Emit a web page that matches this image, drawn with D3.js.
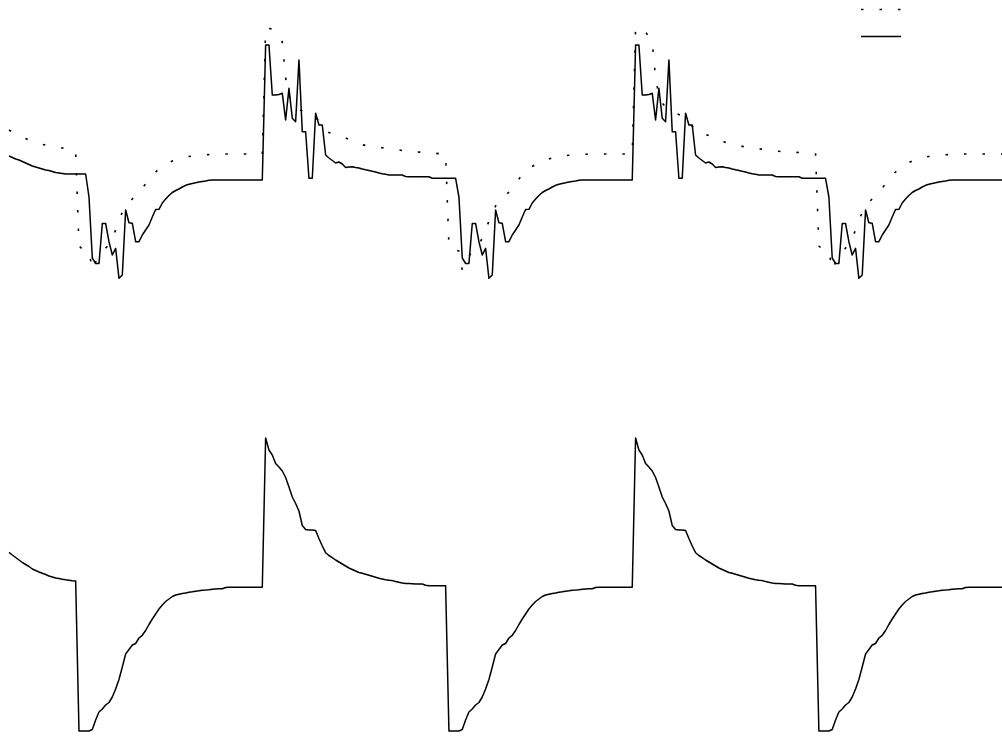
<!DOCTYPE html>
<html>
<head>
<meta charset="utf-8">
<script src="https://cdn.jsdelivr.net/npm/d3@7"></script>
<style>
  html, body { margin: 0; padding: 0; background: #ffffff; }
  svg { display: block; }
</style>
</head>
<body>
<svg id="chart" width="1002" height="736"></svg>
<script>
// Upper panel, dotted trace (one sample per time step)
const upperDotted = [
  4.0,3.8,3.6,3.45,3.3,3.15,3.0,2.9,2.75,2.65,2.57,2.5,2.43,2.37,2.32,2.27,2.2,2.13,2.05,1.97,1.9,
  -7.6,-7.9,-8.0,-8.1,-10.0,-9.2,-8.6,-8.2,-7.8,-7.5,-6.8,-6.0,-5.1,-4.2,-3.6,-3.2,-2.9,-2.6,-2.2,-1.8,-1.4,-0.9,-0.5,-0.2,0.1,0.35,0.55,0.75,0.9,1.0,1.1,1.2,1.3,1.35,1.4,1.43,1.47,1.5,1.52,1.54,1.56,1.57,1.58,1.59,
  1.6,1.6,1.6,1.6,1.6,1.6,1.6,1.6,1.6,1.6,1.6,1.6,
  14.2,14.15,14.1,13.8,13.3,12.8,9.2,7.4,6.7,6.3,6.05,5.9,5.7,5.55,5.4,5.25,4.9,4.4,3.9,3.75,3.65,3.55,3.45,3.33,3.2,3.05,2.9,2.75,2.6,2.52,2.46,2.4,2.36,2.32,2.27,2.22,2.17,2.12,2.08,2.04,2.0,1.95,1.9,1.87,1.83,1.8,1.79,1.78,1.77,1.75,1.7,1.67,1.64,1.62,1.6,
  -7.6,-7.9,-8.0,-8.1,-10.0,-9.2,-8.6,-8.2,-7.8,-7.5,-6.8,-6.0,-5.1,-4.2,-3.6,-3.2,-2.9,-2.6,-2.2,-1.8,-1.4,-0.9,-0.5,-0.2,0.1,0.35,0.55,0.75,0.9,1.0,1.1,1.2,1.3,1.35,1.4,1.43,1.47,1.5,1.52,1.54,1.56,1.57,1.58,1.59,
  1.6,1.6,1.6,1.6,1.6,1.6,1.6,1.6,1.6,1.6,1.6,1.6,
  14.2,14.15,14.1,13.8,13.3,12.8,9.2,7.4,6.7,6.3,6.05,5.9,5.7,5.55,5.4,5.25,4.9,4.4,3.9,3.75,3.65,3.55,3.45,3.33,3.2,3.05,2.9,2.75,2.6,2.52,2.46,2.4,2.36,2.32,2.27,2.22,2.17,2.12,2.08,2.04,2.0,1.95,1.9,1.87,1.83,1.8,1.79,1.78,1.77,1.75,1.7,1.67,1.64,1.62,1.6,
  -7.6,-7.9,-8.0,-8.1,-10.0,-9.2,-8.6,-8.2,-7.8,-7.5,-6.8,-6.0,-5.1,-4.2,-3.6,-3.2,-2.9,-2.6,-2.2,-1.8,-1.4,-0.9,-0.5,-0.2,0.1,0.35,0.55,0.75,0.9,1.0,1.1,1.2,1.3,1.35,1.4,1.43,1.47,1.5,1.52,1.54,1.56,1.57,1.58,1.59,
  1.6,1.6,1.6,1.6,1.6,1.6,1.6,1.6,1.6,1.6,1.6,1.6
];

// Upper panel, solid trace
const upperSolid = [
  1.4,1.25,1.1,1.0,0.85,0.7,0.55,0.4,0.3,0.2,0.1,0,-0.05,-0.15,-0.25,-0.3,-0.35,-0.4,-0.4,-0.4,-0.4,-0.4,-0.4,-0.4,
  -2.7,-8.8,-9.35,-9.35,-5.35,-5.35,-7.17,-8.5,-7.83,-10.83,-10.5,-4.0,-5.27,-5.33,-7.17,-7.17,-6.5,-6.0,-5.5,-4.7,-3.95,-3.93,-3.3,-2.9,-2.55,-2.25,-2.05,-1.9,-1.7,-1.53,-1.43,-1.35,-1.28,-1.2,-1.15,-1.1,-1.03,-1.0,
  -1.0,-1.0,-1.0,-1.0,-1.0,-1.0,-1.0,-1.0,-1.0,-1.0,-1.0,-1.0,-1.0,-1.0,-1.0,
  12.5,12.5,7.5,7.5,7.55,7.67,5.0,8.17,5.17,4.83,11.0,3.83,3.83,-0.83,-0.83,5.67,4.5,4.5,
  1.5,1.2,0.95,0.7,0.8,0.6,0.25,0.3,0.33,0.25,0.2,0.1,0.02,-0.05,-0.13,-0.2,-0.3,-0.37,-0.43,-0.5,-0.5,-0.5,-0.5,-0.5,-0.65,-0.67,-0.67,-0.67,-0.67,-0.67,-0.67,-0.67,-0.83,-0.83,-0.83,-0.83,-0.83,-0.83,-0.83,-0.83,
  -2.7,-8.8,-9.35,-9.35,-5.35,-5.35,-7.17,-8.5,-7.83,-10.83,-10.5,-4.0,-5.27,-5.33,-7.17,-7.17,-6.5,-6.0,-5.5,-4.7,-3.95,-3.93,-3.3,-2.9,-2.55,-2.25,-2.05,-1.9,-1.7,-1.53,-1.43,-1.35,-1.28,-1.2,-1.15,-1.1,-1.03,-1.0,
  -1.0,-1.0,-1.0,-1.0,-1.0,-1.0,-1.0,-1.0,-1.0,-1.0,-1.0,-1.0,-1.0,-1.0,-1.0,
  12.5,12.5,7.5,7.5,7.55,7.67,5.0,8.17,5.17,4.83,11.0,3.83,3.83,-0.83,-0.83,5.67,4.5,4.5,
  1.5,1.2,0.95,0.7,0.8,0.6,0.25,0.3,0.33,0.25,0.2,0.1,0.02,-0.05,-0.13,-0.2,-0.3,-0.37,-0.43,-0.5,-0.5,-0.5,-0.5,-0.5,-0.65,-0.67,-0.67,-0.67,-0.67,-0.67,-0.67,-0.67,-0.83,-0.83,-0.83,-0.83,-0.83,-0.83,-0.83,-0.83,
  -2.7,-8.8,-9.35,-9.35,-5.35,-5.35,-7.17,-8.5,-7.83,-10.83,-10.5,-4.0,-5.27,-5.33,-7.17,-7.17,-6.5,-6.0,-5.5,-4.7,-3.95,-3.93,-3.3,-2.9,-2.55,-2.25,-2.05,-1.9,-1.7,-1.53,-1.43,-1.35,-1.28,-1.2,-1.15,-1.1,-1.03,-1.0,
  -1.0,-1.0,-1.0,-1.0,-1.0,-1.0,-1.0,-1.0,-1.0,-1.0,-1.0,-1.0,-1.0,-1.0,-1.0
];

// Lower panel, solid trace
const lowerSolid = [
  3.27,3.0,2.75,2.5,2.25,2.05,1.85,1.6,1.45,1.3,1.17,1.05,0.9,0.8,0.7,0.65,0.58,0.52,0.47,0.42,0.4,
  -14.6,-14.6,-14.6,-14.6,-14.45,-13.5,-12.7,-12.4,-12.0,-11.75,-11.2,-10.4,-9.45,-8.2,-6.9,-6.45,-6.0,-5.85,-5.3,-5.03,-4.55,-3.95,-3.4,-2.9,-2.4,-2.0,-1.65,-1.4,-1.15,-1.0,-0.92,-0.85,-0.8,-0.73,-0.68,-0.62,-0.58,-0.52,-0.5,-0.47,-0.43,-0.4,-0.38,-0.37,-0.25,
  -0.23,-0.23,-0.23,-0.23,-0.23,-0.23,-0.23,-0.23,-0.23,-0.23,-0.23,
  14.7,13.5,13.0,12.15,11.8,11.4,10.75,9.8,8.8,8.15,7.4,5.95,5.55,5.5,5.5,5.45,4.65,3.9,3.23,2.95,2.73,2.5,2.3,2.1,1.9,1.7,1.55,1.4,1.25,1.17,1.07,0.97,0.87,0.77,0.67,0.6,0.53,0.48,0.44,0.35,0.27,0.2,0.16,0.14,0.12,0.1,0.1,0.1,-0.02,-0.07,-0.07,-0.07,-0.07,-0.07,-0.07,
  -14.6,-14.6,-14.6,-14.6,-14.45,-13.5,-12.7,-12.4,-12.0,-11.75,-11.2,-10.4,-9.45,-8.2,-6.9,-6.45,-6.0,-5.85,-5.3,-5.03,-4.55,-3.95,-3.4,-2.9,-2.4,-2.0,-1.65,-1.4,-1.15,-1.0,-0.92,-0.85,-0.8,-0.73,-0.68,-0.62,-0.58,-0.52,-0.5,-0.47,-0.43,-0.4,-0.38,-0.37,-0.25,
  -0.23,-0.23,-0.23,-0.23,-0.23,-0.23,-0.23,-0.23,-0.23,-0.23,-0.23,
  14.7,13.5,13.0,12.15,11.8,11.4,10.75,9.8,8.8,8.15,7.4,5.95,5.55,5.5,5.5,5.45,4.65,3.9,3.23,2.95,2.73,2.5,2.3,2.1,1.9,1.7,1.55,1.4,1.25,1.17,1.07,0.97,0.87,0.77,0.67,0.6,0.53,0.48,0.44,0.35,0.27,0.2,0.16,0.14,0.12,0.1,0.1,0.1,-0.02,-0.07,-0.07,-0.07,-0.07,-0.07,-0.07,
  -14.6,-14.6,-14.6,-14.6,-14.45,-13.5,-12.7,-12.4,-12.0,-11.75,-11.2,-10.4,-9.45,-8.2,-6.9,-6.45,-6.0,-5.85,-5.3,-5.03,-4.55,-3.95,-3.4,-2.9,-2.4,-2.0,-1.65,-1.4,-1.15,-1.0,-0.92,-0.85,-0.8,-0.73,-0.68,-0.62,-0.58,-0.52,-0.5,-0.47,-0.43,-0.4,-0.38,-0.37,-0.25,
  -0.23,-0.23,-0.23,-0.23,-0.23,-0.23,-0.23,-0.23,-0.23,-0.23,-0.23
];

// Sample index along the time axis
const steps = upperSolid.map((_, i) => i);

const svg = d3.select("#chart");
const W = 1002, H = 736;

const x = d3.scaleLinear().domain([0, 298]).range([9, 1002.2]);
const yUpper = d3.scaleLinear().domain([-12, 15]).range([290, 20]);
const yLower = d3.scaleLinear().domain([-15, 15]).range([735, 435]);

const dotted = "2.5 16";

function lineFor(scale) {
  return d3.line().x((d, i) => x(steps[i])).y(d => scale(d));
}

const upper = svg.append("g").attr("class", "upper");
upper.append("path")
  .datum(upperDotted)
  .attr("d", lineFor(yUpper))
  .attr("fill", "none")
  .attr("stroke", "#000")
  .attr("stroke-width", 1.6)
  .attr("stroke-dasharray", dotted);
upper.append("path")
  .datum(upperSolid)
  .attr("d", lineFor(yUpper))
  .attr("fill", "none")
  .attr("stroke", "#000")
  .attr("stroke-width", 1.5)
  .attr("stroke-linejoin", "round");

const lower = svg.append("g").attr("class", "lower");
lower.append("path")
  .datum(lowerSolid)
  .attr("d", lineFor(yLower))
  .attr("fill", "none")
  .attr("stroke", "#000")
  .attr("stroke-width", 1.5)
  .attr("stroke-linejoin", "round");

// Legend samples in the top-right corner
const legend = svg.append("g").attr("class", "legend").attr("transform", "translate(861,0)");
legend.append("line")
  .attr("x1", 0).attr("x2", 40).attr("y1", 9.5).attr("y2", 9.5)
  .attr("stroke", "#000").attr("stroke-width", 1.6).attr("stroke-dasharray", dotted);
legend.append("line")
  .attr("x1", 0).attr("x2", 40).attr("y1", 36.5).attr("y2", 36.5)
  .attr("stroke", "#000").attr("stroke-width", 1.5);
</script>
</body>
</html>
